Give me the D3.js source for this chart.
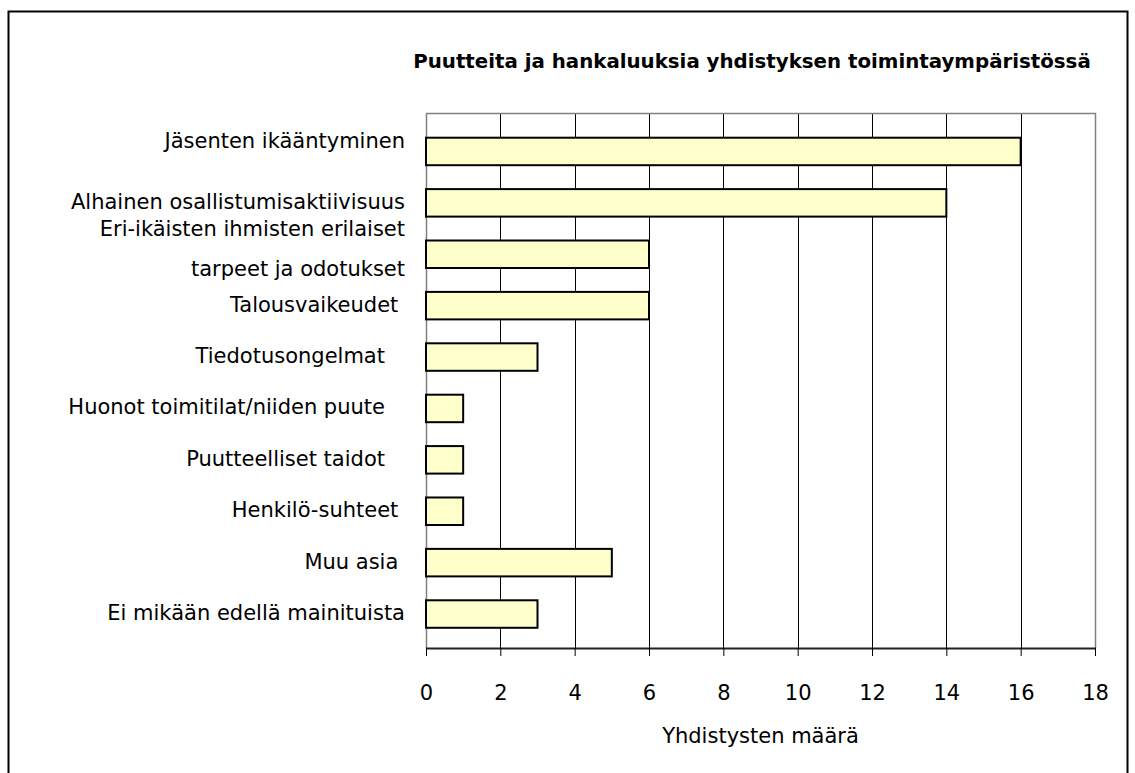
<!DOCTYPE html>
<html lang="fi">

<head>
    <meta charset="utf-8">
    <title>Puutteita ja hankaluuksia yhdistyksen toimintaympäristössä</title>
</head>

<body>
    <script src="https://cdn.jsdelivr.net/npm/d3@7"></script>
    <script>
        // data
        const categories = [
            "Jäsenten ikääntyminen",
            "Alhainen osallistumisaktiivisuus",
            "Eri-ikäisten ihmisten erilaiset\ntarpeet ja odotukset",
            "Talousvaikeudet ",
            "Tiedotusongelmat   ",
            "Huonot toimitilat/niiden puute   ",
            "Puutteelliset taidot   ",
            "Henkilö-suhteet ",
            "Muu asia ",
            "Ei mikään edellä mainituista"
        ];
        const counts = [16, 14, 6, 6, 3, 1, 1, 1, 5, 3];
        const xTicks = [0, 2, 4, 6, 8, 10, 12, 14, 16, 18];
        const title = "Puutteita ja hankaluuksia yhdistyksen toimintaympäristössä";
        const xTitle = "Yhdistysten määrä";

        function draw() {
            "use strict";

            const width = 1135,
                height = 773;
            const plot = { left: 426, right: 1095, top: 113, bottom: 648 };

            const svg = d3.select('body')
                .append('svg')
                    .attr('width', width)
                    .attr('height', height);

            // outer frame (bottom edge falls outside the page)
            svg.append('rect')
                .attr('class', 'frame')
                .attr('x', 8.5)
                .attr('y', 11.5)
                .attr('width', 1119)
                .attr('height', 820);

            // scales
            const x = d3.scaleLinear()
                .domain([0, 18])
                .range([plot.left, plot.right]);
            const y = d3.scaleBand()
                .domain(categories)
                .range([plot.top, plot.bottom])
                .paddingInner(0.465)
                .paddingOuter(0.437)
                .align(0.55);

            // gridlines
            svg.append('g')
                .attr('class', 'grid')
                .selectAll('line')
                .data(xTicks.filter(d => d > 0 && d < 18))
                .join('line')
                    .attr('x1', d => Math.round(x(d)) + 0.5)
                    .attr('x2', d => Math.round(x(d)) + 0.5)
                    .attr('y1', plot.top)
                    .attr('y2', plot.bottom);

            // plot border (top, right, left)
            svg.append('path')
                .attr('class', 'plot-border')
                .attr('d', `M${plot.left + 0.5},${plot.bottom} V${plot.top + 0.5} H${plot.right + 0.5} V${plot.bottom}`);

            // bars
            svg.append('g')
                .selectAll('rect')
                .data(categories)
                .join('rect')
                    .attr('class', 'bar')
                    .attr('x', x(0))
                    .attr('y', d => y(d))
                    .attr('width', (d, i) => x(counts[i]) - x(0))
                    .attr('height', y.bandwidth());

            // x axis
            const xAxis = d3.axisBottom(x)
                .tickValues(xTicks)
                .tickSize(8)
                .tickPadding(29);
            svg.append('g')
                .attr('class', 'x axis')
                .attr('transform', `translate(0, ${plot.bottom})`)
                .call(xAxis)
                .attr('font-size', 21)
                .attr('font-family', null)
                .call(g => g.select('.domain').attr('d', `M${plot.left},0.5H${plot.right + 1}`));

            // category labels, the long one wraps on two lines
            const labels = svg.append('g')
                .attr('class', 'cat-labels')
                .selectAll('text')
                .data(categories)
                .join('text')
                    .attr('x', 405)
                    .attr('y', d => y(d) + y.bandwidth() / 2);
            labels.each(function (d, i) {
                const lines = d.split('\n');
                const t = d3.select(this);
                lines.forEach((line, j) => {
                    let dy = 6;
                    if (lines.length > 1) dy = j === 0 ? -18 : 40;
                    else if (i === 0) dy = -3;
                    t.append('tspan')
                        .attr('x', 405)
                        .attr('dy', dy)
                        .text(line);
                });
            });

            // titles
            svg.append('text')
                .attr('class', 'title')
                .attr('x', 752)
                .attr('y', 68)
                .text(title);
            svg.append('text')
                .attr('class', 'x-title')
                .attr('x', (plot.left + plot.right) / 2)
                .attr('y', 743)
                .text(xTitle);
        }

        draw();
    </script>
    <style>
        body {
            margin: 0;
            background: white;
        }
        svg {
            display: block;
            font-family: "DejaVu Sans", sans-serif;
        }
        .frame {
            fill: white;
            stroke: black;
            stroke-width: 2px;
        }
        .grid line {
            stroke: black;
            stroke-width: 1px;
        }
        .plot-border {
            fill: none;
            stroke: #808080;
            stroke-width: 1.5px;
        }
        .bar {
            fill: #FFFFCC;
            stroke: black;
            stroke-width: 2px;
        }
        .axis .domain {
            stroke: #222;
            stroke-width: 2px;
        }
        .axis .tick line {
            stroke: black;
        }
        .axis .tick text {
            fill: black;
        }
        .cat-labels text {
            font-size: 21px;
            text-anchor: end;
            white-space: pre;
            fill: black;
        }
        .title {
            font-size: 19.8px;
            font-weight: bold;
            text-anchor: middle;
        }
        .x-title {
            font-size: 21px;
            text-anchor: middle;
        }
    </style>
</body>

</html>
